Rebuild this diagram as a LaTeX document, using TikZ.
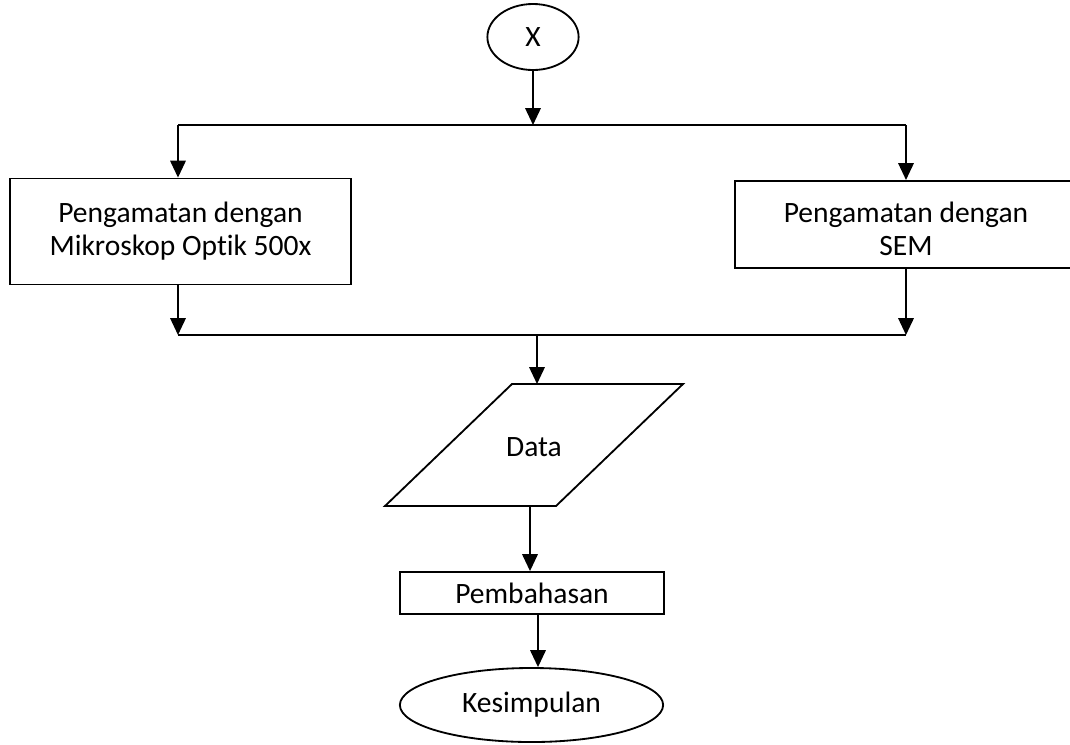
\documentclass[tikz,border=0pt]{standalone}
\usepackage{fontspec}
\setmainfont{Carlito}[Ligatures=NoCommon]
\usetikzlibrary{arrows.meta,shapes.geometric}

\begin{document}
\begin{tikzpicture}[x=0.025cm, y=-0.025cm, line width=1.3pt,
                    every node/.style={font=\fontsize{21}{23.3}\selectfont, inner sep=0pt, align=center},
                    box/.style={draw, rectangle},
                    oval/.style={draw, ellipse},
                    arr/.style={-{Triangle[length=12pt,width=11pt]}}]

                    \clip (0,0) rectangle (1070,744); % page frame

                    % Nodes
                    \node[oval, minimum width=2.28cm, minimum height=1.65cm] (x) at (533,37) {X}; % connector
                    \node[box, minimum width=8.53cm, minimum height=2.65cm] (optik) at (180.5,231.5) {Pengamatan dengan\\Mikroskop Optik 500x};
                    \node[box, minimum width=8.55cm, minimum height=2.18cm] (sem) at (906,224.5) {}; % box runs off the page
                    \node (semtext) at (906,229) {Pengamatan dengan\\SEM};
                    \node (data) at (534,447) {Data};
                    \node[box, minimum width=6.6cm, minimum height=1.05cm] (bahas) at (532,593) {Pembahasan};
                    \node[oval, minimum width=6.58cm, minimum height=1.85cm] (simpul) at (531.5,705) {Kesimpulan};

                    % Parallelogram round Data
                    \draw (512,384) -- (683,384) -- (556,506) -- (385,506) -- cycle;

                    % Junction points
                    \coordinate (split) at (533,125);
                    \coordinate (splitL) at (178,125);
                    \coordinate (splitR) at (906,125);
                    \coordinate (joinL) at (178,335);
                    \coordinate (joinR) at (906,335);
                    \coordinate (joinM) at (537,335);
                    \coordinate (dataT) at (537,384); % top of Data
                    \coordinate (dataB) at (530,506); % bottom of Data

                    % Connectors
                    \draw[arr] (x.south) -- (split);
                    \draw (splitL) -- (splitR);
                    \draw[arr] (splitL) -- (splitL |- optik.north);
                    \draw[arr] (splitR) -- (splitR |- sem.north);
                    \draw[arr] (optik.south -| joinL) -- (joinL);
                    \draw[arr] (sem.south -| joinR) -- (joinR);
                    \draw (joinL) -- (joinR);
                    \draw[arr] (joinM) -- (dataT);
                    \draw[arr] (dataB) -- (dataB |- bahas.north);
                    \draw[arr] (bahas.south -| 538,0) -- (538,0 |- simpul.north);
                \end{tikzpicture}
\end{document}
